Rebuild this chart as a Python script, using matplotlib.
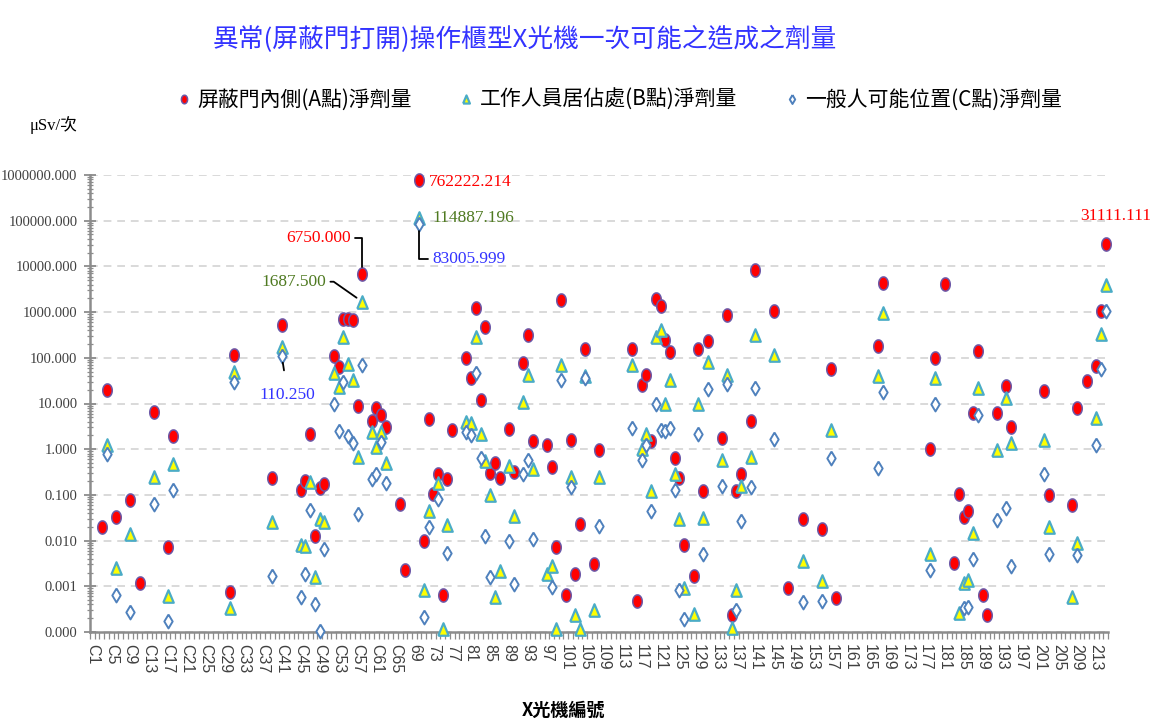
import numpy as np
import matplotlib.pyplot as plt
from matplotlib.ticker import LogLocator, FuncFormatter, NullFormatter, FixedLocator

CJK = ['Noto Sans CJK TC', 'DejaVu Sans']
SERIF = ['Liberation Serif', 'Noto Sans CJK TC']
SANS = ['Liberation Sans', 'DejaVu Sans']
plt.rcParams['font.family'] = CJK
plt.rcParams['axes.unicode_minus'] = False

title = '異常(屏蔽門打開)操作櫃型X光機一次可能之造成之劑量'
label_a = '屏蔽門內側(A點)淨劑量'
label_b = '工作人員居佔處(B點)淨劑量'
label_c = '一般人可能位置(C點)淨劑量'
x_title = 'X光機編號'
y_unit = 'μSv/次'

n_machines = 215
tick_labels = ['C1', 'C5', 'C9', 'C13', 'C17', 'C21', 'C25', 'C29', 'C33', 'C37',
               'C41', 'C45', 'C49', 'C53', 'C57', 'C61', 'C65', '69', '73', '77',
               '81', '85', '89', '93', '97', '101', '105', '109', '113', '117',
               '121', '125', '129', '133', '137', '141', '145', '149', '153', '157',
               '161', '165', '169', '173', '177', '181', '185', '189', '193', '197',
               '201', '205', '209', '213']

# A點 (屏蔽門內側)
a_no = [3, 4, 6, 9, 11, 14, 17, 18, 30, 31, 39, 41, 45, 46, 47, 48, 49, 50,
        52, 53, 54, 55, 56, 57, 58, 60, 61, 62, 63, 66, 67, 70, 71, 72, 73, 74,
        75, 76, 77, 80, 81, 82, 83, 84, 85, 86, 87, 89, 90, 92, 93, 94, 97, 98,
        99, 100, 101, 102, 103, 104, 105, 107, 108, 115, 116, 117, 118, 119, 120,
        121, 122, 123, 124, 125, 126, 128, 129, 130, 131, 134, 135, 136, 137,
        138, 140, 141, 145, 148, 151, 155, 157, 158, 167, 168, 178, 179, 181,
        183, 184, 185, 186, 187, 188, 189, 190, 192, 194, 195, 202, 203, 208,
        209, 211, 213, 214, 215]
a_dose = [0.0195, 19.6, 0.033, 0.078, 0.0012, 6.4, 0.0071, 1.95, 0.00076, 114,
          0.23, 534, 0.13, 0.2, 2.1, 0.0125, 0.14, 0.17,
          109, 63, 700, 700, 665, 9.0, 6750.0, 4.2, 7.8, 5.6, 3.0, 0.063, 0.0023,
          762222.214, 0.0097, 4.5, 0.104, 0.29,
          0.00066, 0.22, 2.6, 101, 36, 1260, 12, 475, 0.3, 0.51, 0.23, 2.8, 0.31,
          78, 310, 1.52, 1.24, 0.4,
          0.0071, 1820, 0.00066, 1.57, 0.0019, 0.023, 155, 0.0031, 0.97, 152,
          0.00048, 25, 42, 1.52, 1960,
          1340, 250, 135, 0.64, 0.23, 0.0082, 0.0017, 152, 0.12, 235, 1.74, 850,
          0.00024, 0.12,
          0.28, 4.2, 8150, 1040, 0.0009, 0.03, 0.018, 56, 0.00056, 182, 4350, 1.0,
          100, 4060,
          0.0032, 0.104, 0.033, 0.044, 6.1, 140, 0.00063, 0.00024, 6.1, 24.5, 3.1,
          19, 0.1, 0.059,
          7.8, 31, 66, 1040, 31111.111]

# B點 (工作人員居佔處)
b_no = [4, 6, 9, 14, 17, 18, 30, 31, 39, 41, 45, 46, 47, 48, 49, 50, 52, 53,
        54, 55, 56, 57, 58, 60, 61, 62, 63, 70, 71, 72, 74, 75, 76, 80, 81, 82,
        83, 84, 85, 86, 87, 89, 90, 92, 93, 94, 97, 98, 99, 100, 102, 103, 104,
        105, 107, 108, 115, 117, 118, 119, 120, 121, 122, 123, 124, 125, 126,
        128, 129, 130, 131, 134, 135, 136, 137, 138, 140, 141, 145, 151, 155,
        157, 167, 168, 178, 179, 184, 185, 186, 187, 188, 192, 194, 195, 202,
        203, 208, 209, 213, 214, 215]
b_dose = [1.24, 0.0025, 0.014, 0.25, 0.00062, 0.48, 0.00033, 48, 0.026, 174,
          0.0082, 0.0078, 0.19, 0.0016, 0.029, 0.026, 45.6, 23,
          287, 73, 32, 0.69, 1687.5, 2.35, 1.09, 2.35, 0.51, 114887.196, 0.00085,
          0.045, 0.18, 0.000115, 0.022, 4.0, 3.7, 287,
          2.2, 0.54, 0.1, 0.00058, 0.0022, 0.42, 0.034, 10.6, 42, 0.37, 0.0019,
          0.0028, 0.000115, 69, 0.25, 0.00023, 0.000115,
          40, 0.0003, 0.25, 69, 1.0, 2.2, 0.12, 287, 415, 9.7, 32, 0.29, 0.029,
          0.00093,
          0.00025, 10, 0.031, 79, 0.59, 43, 0.00012, 0.00085, 0.16, 0.66, 310,
          114, 0.0036, 0.0013,
          2.6, 39, 960, 0.0051, 36, 0.00026, 0.0012, 0.0014, 0.0147, 22, 0.97, 13,
          1.4, 1.6,
          0.0195, 0.00058, 0.0089, 4.9, 340, 3880]

# C點 (一般人可能位置)
c_no = [4, 6, 9, 14, 17, 18, 31, 39, 41, 45, 46, 47, 48, 49, 50, 52, 53, 54,
        55, 56, 57, 58, 60, 61, 62, 63, 70, 71, 72, 74, 76, 80, 81, 82, 83, 84,
        85, 89, 90, 92, 93, 94, 98, 100, 102, 105, 108, 115, 117, 118, 119, 120,
        121, 122, 123, 124, 125, 126, 129, 130, 131, 134, 135, 137, 138, 140,
        141, 145, 151, 155, 157, 167, 168, 178, 179, 185, 186, 187, 188, 192,
        194, 195, 202, 203, 209, 213, 214, 215]
c_dose = [0.78, 0.00063, 0.00028, 0.063, 0.00017, 0.13, 29, 0.0017, 110.25,
          0.00059, 0.0019, 0.047, 0.0004, 0.000105, 0.0066, 9.6, 2.5, 29,
          1.9, 1.35, 0.038, 69, 0.22, 0.28, 1.42, 0.18, 83005.999, 0.00021, 0.0195,
          0.081, 0.0054, 2.4, 2.0, 46, 0.64, 0.0125,
          0.0016, 0.0097, 0.0011, 0.28, 0.59, 0.011, 0.00096, 32, 0.146, 36, 0.021,
          2.9, 0.59, 1.24, 0.044, 9.6,
          2.6, 2.55, 2.9, 0.13, 0.00085, 0.00019, 2.1, 0.005, 21, 0.16, 27,
          0.00031, 0.027, 0.146,
          22, 1.65, 0.00045, 0.00047, 0.64, 0.38, 18, 0.0023, 9.6, 0.00033,
          0.00035, 0.0039, 5.6, 0.028,
          0.051, 0.0028, 0.28, 0.0052, 0.0048, 1.24, 56, 1040]

W, H = 1155, 724
fig = plt.figure(figsize=(W / 100, H / 100), dpi=100)
ax = fig.add_axes([90 / W, 1 - 632 / H, 1018 / W, 457 / H])

# tall marker shapes
t = np.linspace(0, 2 * np.pi, 48)
oval = np.column_stack([0.72 * np.sin(t), np.cos(t)])
tri = [(-0.42, -0.5), (0.42, -0.5), (0, 0.5), (-0.42, -0.5)]
dia = [(0, 0.5), (0.3, 0), (0, -0.5), (-0.3, 0), (0, 0.5)]

la, = ax.plot(a_no, a_dose, ls='none', marker=oval, ms=9.5, mfc='#ff0000',
              mec='#6b58a8', mew=1.1, clip_on=False, zorder=3, label=label_a)
lb, = ax.plot(b_no, b_dose, ls='none', marker=tri, ms=9, mfc='#ffff00',
              mec='#4bacc6', mew=1.6, clip_on=False, zorder=4, label=label_b)
lc, = ax.plot(c_no, c_dose, ls='none', marker=dia, ms=10, mfc='white',
              mec='#4f81bd', mew=1.4, clip_on=False, zorder=5, label=label_c)

ax.set_yscale('log')
ax.set_ylim(1e-4, 1e6)
ax.set_xlim(0.5, n_machines + 0.5)

ax.yaxis.set_major_locator(LogLocator(base=10, numticks=20))
ax.yaxis.set_major_formatter(FuncFormatter(lambda v, p: f'{v:.3f}'))
ax.yaxis.set_minor_locator(LogLocator(base=10, subs=np.arange(2, 10), numticks=20))
ax.yaxis.set_minor_formatter(NullFormatter())
ax.yaxis.grid(True, which='major', ls=(0, (4, 3)), color='#d9d9d9', lw=1.4)
ax.set_axisbelow(True)

ax.set_xticks(np.arange(1, n_machines + 1, 4))
ax.set_xticklabels(tick_labels, rotation=270, fontfamily=SANS)
ax.xaxis.set_minor_locator(FixedLocator(np.arange(0.5, n_machines + 1, 1)))

for s in ['top', 'right']:
    ax.spines[s].set_visible(False)
for s in ['left', 'bottom']:
    ax.spines[s].set_color('#8c8c8c')
    ax.spines[s].set_linewidth(1.8)

ax.tick_params(axis='y', which='major', direction='inout', length=8, width=1.3,
               color='#8c8c8c', labelsize=10.5, labelcolor='#404040', pad=5,
               labelfontfamily=SERIF)
ax.tick_params(axis='y', which='minor', direction='inout', length=4, width=0.9,
               color='#8c8c8c')
ax.tick_params(axis='x', which='major', length=0, pad=9, labelsize=11.5,
               labelcolor='#404040')
ax.tick_params(axis='x', which='minor', direction='out', length=5, width=0.9,
               color='#8c8c8c')

fig.text(525 / W, 1 - 40 / H, title, ha='center', va='center', fontsize=18.5,
         color='#3333ff')
fig.text(30 / W, 1 - 125 / H, y_unit, ha='left', va='center', fontsize=12,
         family=SERIF)
fig.text(563 / W, 1 - 710 / H, x_title, ha='center', va='center', fontsize=13,
         weight='bold')

fig.legend(handles=[la, lb, lc], loc='center', bbox_to_anchor=(620 / W, 1 - 100 / H),
           ncol=3, frameon=False, fontsize=15, markerscale=0.65,
           handlelength=0.6, handletextpad=0.35, columnspacing=2.3)

# value call-outs
callouts = [
    (a_no, a_dose, 70, '#ff0000', (10, -2), 'left', None, 1),
    (b_no, b_dose, 70, '#4f7a21', (13, 0), 'left', None, 1),
    (c_no, c_dose, 70, '#3333ff', (13, -35), 'left', 'angle,angleA=0,angleB=90,rad=0', 1),
    (a_no, a_dose, 58, '#ff0000', (-11, 36), 'right', 'angle,angleA=0,angleB=90,rad=0', 1),
    (b_no, b_dose, 58, '#4f7a21', (-36, 20), 'right', 'angle,angleA=0,angleB=145,rad=0', 1),
    (c_no, c_dose, 41, '#3333ff', (6, -39), 'center', 'arc3,rad=0', 10),
    (a_no, a_dose, 215, '#ff0000', (10, 28), 'center', None, 1),
]
for nos, doses, no, col, off, ha, conn, gap in callouts:
    v = doses[nos.index(no)]
    arrow = None
    if conn:
        arrow = dict(arrowstyle='-', color='black', lw=1.3, connectionstyle=conn,
                     shrinkA=gap, shrinkB=5)
    ax.annotate(f'{v:.3f}', xy=(no, v), xytext=off, textcoords='offset pixels',
                ha=ha, va='center', fontsize=12.5, color=col, family=SERIF,
                arrowprops=arrow, annotation_clip=False, zorder=6)

fig.savefig('out.png', dpi=100)
